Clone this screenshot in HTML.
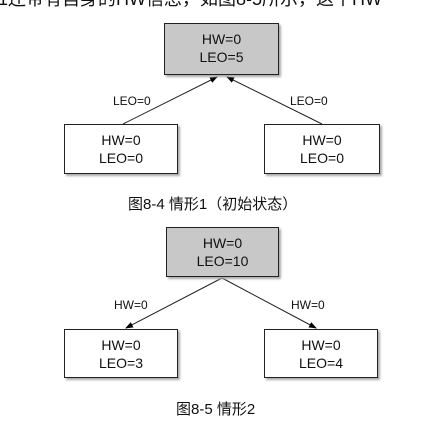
<!DOCTYPE html>
<html><head><meta charset="utf-8"><style>
html,body{margin:0;padding:0;background:#fff;width:434px;height:423px;overflow:hidden;position:relative;font-family:"Liberation Sans","Noto Sans CJK SC",sans-serif;}
.b{position:absolute;border:1px solid #222;box-sizing:border-box;background:#fff;box-shadow:2px 2px 2px #aaa;text-align:center;font-size:14px;line-height:18px;color:#111;padding-top:6px}
.g{background:#c8c8c8}
.l{position:absolute;font-size:12px;color:#111}
.c{position:absolute;font-size:15px;color:#111;white-space:nowrap}
</style></head><body>
<div class="c" style="left:-2px;top:-15px;font-size:18px">1还带有自身的HW信息，如图8-5所示，这个HW</div>
<svg width="434" height="423" style="position:absolute;left:0;top:0">
<defs><marker id="a" markerWidth="8" markerHeight="8" refX="7" refY="4" orient="auto"><path d="M0,1 L8,4 L0,7z" fill="#000"/></marker></defs>
<g stroke="#222" stroke-width="1" fill="none">
<line x1="123" y1="124" x2="217" y2="77" marker-end="url(#a)"/>
<line x1="322" y1="124" x2="227" y2="77" marker-end="url(#a)"/>
<line x1="222" y1="278" x2="126" y2="328" marker-end="url(#a)"/>
<line x1="222" y1="278" x2="316" y2="328" marker-end="url(#a)"/>
</g></svg>
<div class="b g" style="left:164px;top:23px;width:115px;height:52px">HW=0<br>LEO=5</div>
<div class="b" style="left:64px;top:124px;width:114px;height:50px">HW=0<br>LEO=0</div>
<div class="b" style="left:264px;top:124px;width:116px;height:50px">HW=0<br>LEO=0</div>
<div class="l" style="left:113px;top:94px">LEO=0</div>
<div class="l" style="left:290px;top:94px">LEO=0</div>
<div class="c" style="left:128px;top:193px">图8-4 情形1（初始状态）</div>
<div class="b g" style="left:166px;top:227px;width:113px;height:50px">HW=0<br>LEO=10</div>
<div class="b" style="left:64px;top:329px;width:114px;height:49px">HW=0<br>LEO=3</div>
<div class="b" style="left:264px;top:329px;width:114px;height:49px">HW=0<br>LEO=4</div>
<div class="l" style="left:114px;top:298px">HW=0</div>
<div class="l" style="left:291px;top:298px">HW=0</div>
<div class="c" style="left:176px;top:398px">图8-5 情形2</div>
</body></html>
